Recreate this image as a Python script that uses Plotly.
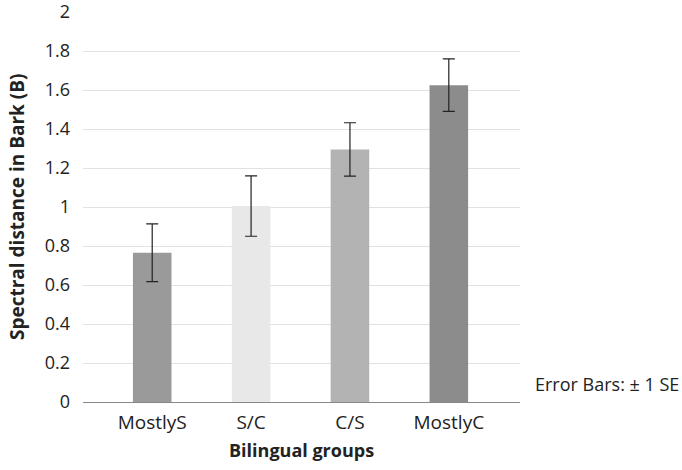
import plotly.graph_objects as go

groups = ["MostlyS", "S/C", "C/S", "MostlyC"]
means = [0.765, 1.005, 1.295, 1.625]
se = [0.148, 0.155, 0.137, 0.135]
colors = ["#9a9a9a", "#e8e8e8", "#b3b3b3", "#8c8c8c"]
yticks = [0, 0.2, 0.4, 0.6, 0.8, 1, 1.2, 1.4, 1.6, 1.8, 2]

fig = go.Figure()
fig.add_trace(go.Bar(
    x=list(range(len(groups))), y=means,
    marker=dict(color=colors, line=dict(width=0)),
    width=0.39,
    error_y=dict(type="data", array=se, visible=True, color="#222222", thickness=1.2, width=6),
))
font = "'Open Sans', sans-serif"
fig.update_layout(
    width=682, height=470,
    margin=dict(l=83, r=162, t=12, b=68, autoexpand=False),
    paper_bgcolor="white", plot_bgcolor="white",
    showlegend=False,
    font=dict(family=font, color="#222222", size=18),
    xaxis=dict(
        tickmode="array", tickvals=list(range(len(groups))), ticktext=groups,
        range=[-0.7, 3.72], showgrid=False, zeroline=False, automargin=False,
        showline=False, ticks="", tickfont=dict(size=19), ticklabeloverflow="allow",
        ticklabelstandoff=7,
    ),
    yaxis=dict(
        range=[0, 2], tickmode="array", tickvals=yticks, automargin=False,
        ticktext=[("%g" % v) for v in yticks], ticklabeloverflow="allow",
        showgrid=True, gridcolor="#e2e2e2", gridwidth=1,
        zeroline=True, zerolinecolor="#888888", zerolinewidth=1.2,
        showline=False, ticks="", ticklabelstandoff=12, tickfont=dict(size=18),
    ),
    annotations=[
        dict(text="Error Bars: ± 1 SE", xref="paper", yref="paper",
             x=1.030, y=0.046, xanchor="left", yanchor="middle", showarrow=False,
             font=dict(size=18, family=font, color="#222222")),
        dict(text="<b>Bilingual groups</b>", xref="paper", yref="paper",
             x=0.5, y=-0.123, xanchor="center", yanchor="middle", showarrow=False,
             font=dict(size=18, family=font, color="#222222")),
        dict(text="<b>Spectral distance in Bark (B)</b>", xref="paper", yref="paper",
             x=-0.151, y=0.5, xanchor="center", yanchor="middle", showarrow=False,
             textangle=-90, font=dict(size=19, family=font, color="#222222")),
    ],
)
fig.write_html("out.html", config={"displayModeBar": False},
               post_script="document.body.style.margin='0';")
